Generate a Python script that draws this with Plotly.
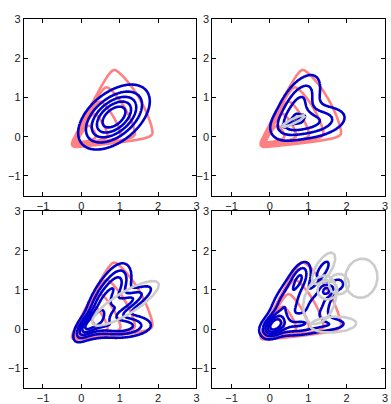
import numpy as np
import plotly.graph_objects as go

# ---------------- data ----------------
axis_range = [-1.5, 3.0]
tick_values = [-1, 0, 1, 2, 3]
tick_labels = ["\u22121", "0", "1", "2", "3"]

# contour levels, as fractions of each density's maximum (5 levels)
level_fractions = [1 / 6, 2 / 6, 3 / 6, 4 / 6, 5 / 6]

# target density (salmon): triangular, peaked at a corner
target_corner = [-0.2, -0.2]
target_edge_right = [2.1, 0.15]
target_edge_apex = [0.98, 2.0]
target_extent = 1.38
target_power = 1.6
target_norm_q = 1.2
target_edge_width = 0.02

# mixtures (blue); gray outlines for selected components
p1_weights = [1.0]
p1_means = [[0.85, 0.5]]
p1_angles = [38]
p1_sd_major = [0.57]
p1_sd_minor = [0.33]
p1_gray = [False]

p2_weights = [0.5, 0.49, 0.01]
p2_means = [[0.74, 0.84], [1.08, 0.36], [0.62, 0.4]]
p2_angles = [57, 10, 25]
p2_sd_major = [0.55, 0.58, 0.16]
p2_sd_minor = [0.27, 0.25, 0.03]
p2_gray = [False, False, True]

p3_weights = [0.33, 0.28, 0.18, 0.13, 0.08]
p3_means = [[0.54, 0.64], [0.99, 0.08], [1.15, 0.66], [1.0, 1.18], [0.12, 0.05]]
p3_angles = [65, 2, 31, 70, 50]
p3_sd_major = [0.5, 0.5, 0.5, 0.35, 0.28]
p3_sd_minor = [0.2, 0.18, 0.14, 0.2, 0.12]
p3_gray = [False, False, True, False, False]

p4_weights = [0.1, 0.14, 0.14, 0.1, 0.14, 0.08, 0.09, 0.1, 0.03, 0.03, 0.02, 0.02, 0.03]
p4_means = [[0.1, 0.1], [0.3, 0.5], [0.55, 0.08], [0.55, 0.95], [0.9, 0.5],
            [1.2, 0.15], [0.8, 1.35], [1.3, 0.75], [1.65, 0.12], [1.4, 1.55],
            [1.8, 1.15], [2.38, 1.3], [1.5, 1.0]]
p4_angles = [45, 62, 5, 62, 35, 5, 65, 70, 3, 57, 0, 80, 0]
p4_sd_major = [0.22, 0.42, 0.48, 0.38, 0.42, 0.45, 0.28, 0.32, 0.3, 0.23, 0.13, 0.25, 0.13]
p4_sd_minor = [0.14, 0.2, 0.16, 0.2, 0.27, 0.2, 0.15, 0.2, 0.1, 0.1, 0.13, 0.21, 0.12]
p4_gray = [False, False, False, False, False, False, False, True, True, True, True, True, True]

panels = [
    (p1_weights, p1_means, p1_angles, p1_sd_major, p1_sd_minor, p1_gray),
    (p2_weights, p2_means, p2_angles, p2_sd_major, p2_sd_minor, p2_gray),
    (p3_weights, p3_means, p3_angles, p3_sd_major, p3_sd_minor, p3_gray),
    (p4_weights, p4_means, p4_angles, p4_sd_major, p4_sd_minor, p4_gray),
]

# ---------------- styles ----------------
SALMON = "rgb(255,128,128)"
BLUE = "rgb(0,0,204)"
GRAY = "rgb(204,204,204)"
LW = 2.6
FONT = "Liberation Sans, Arial, sans-serif"

W, H = 391, 404
boxes_x = [(24, 198), (214, 388), (24, 198), (214, 388)]
boxes_y = [(13, 192.5), (13, 192.5), (208.5, 388), (208.5, 388)]

grid = np.linspace(axis_range[0], axis_range[1], 226)
GX, GY = np.meshgrid(grid, grid)


def sigmoid(x):
    return 0.5 * (1.0 + np.tanh(0.5 * x))


def target_density():
    A = np.array([[target_edge_right[0], target_edge_apex[0]],
                  [target_edge_right[1], target_edge_apex[1]]])
    Ai = np.linalg.inv(A)
    dx = GX - target_corner[0]
    dy = GY - target_corner[1]
    a = Ai[0, 0] * dx + Ai[0, 1] * dy
    b = Ai[1, 0] * dx + Ai[1, 1] * dy
    ap, bp = np.maximum(a, 0), np.maximum(b, 0)
    u = (ap ** target_norm_q + bp ** target_norm_q) ** (1 / target_norm_q)
    radial = np.maximum(1 - u / target_extent, 0) ** target_power
    return radial * sigmoid(a / target_edge_width) * sigmoid(b / target_edge_width)


def mixture_density(weights, means, angles, s1, s2):
    p = np.zeros_like(GX)
    for w, m, ang, a, b in zip(weights, means, angles, s1, s2):
        t = np.deg2rad(ang)
        c, s = np.cos(t), np.sin(t)
        dx = GX - m[0]
        dy = GY - m[1]
        u = c * dx + s * dy
        v = -s * dx + c * dy
        p += w * np.exp(-0.5 * ((u / a) ** 2 + (v / b) ** 2)) / (2 * np.pi * a * b)
    return p


def ellipse(m, ang, a, b, k=2.0, n=120):
    t = np.linspace(0, 2 * np.pi, n)
    th = np.deg2rad(ang)
    x = m[0] + k * (a * np.cos(t) * np.cos(th) - b * np.sin(t) * np.sin(th))
    y = m[1] + k * (a * np.cos(t) * np.sin(th) + b * np.sin(t) * np.cos(th))
    return x, y


def contour_trace(z, color, xa, ya):
    zn = (z / z.max()).astype(np.float32)
    lev = np.array(level_fractions)
    step = float(np.diff(lev).mean())
    return go.Contour(x=grid, y=grid, z=zn, xaxis=xa, yaxis=ya, autocontour=False,
                      contours=dict(coloring="lines", start=float(lev[0]),
                                    end=float(lev[-1]) + 1e-6, size=step),
                      line=dict(width=LW, smoothing=1), showscale=False,
                      colorscale=[[0, color], [1, color]], hoverinfo="skip")


fig = go.Figure()
tgt = target_density()

for i, (wts, means, angs, s1, s2, gray) in enumerate(panels):
    xa = "x" if i == 0 else f"x{i+1}"
    ya = "y" if i == 0 else f"y{i+1}"
    for m, ang, a, b, gflag in zip(means, angs, s1, s2, gray):
        if gflag:
            ex, ey = ellipse(m, ang, a, b)
            fig.add_trace(go.Scatter(x=ex, y=ey, mode="lines", xaxis=xa, yaxis=ya,
                                     line=dict(color=GRAY, width=LW), hoverinfo="skip"))
    fig.add_trace(contour_trace(tgt, SALMON, xa, ya))
    fig.add_trace(contour_trace(mixture_density(wts, means, angs, s1, s2), BLUE, xa, ya))

layout = dict(width=W, height=H, margin=dict(l=0, r=0, t=0, b=0),
              paper_bgcolor="white", plot_bgcolor="white", showlegend=False)
for i in range(4):
    xk = "xaxis" if i == 0 else f"xaxis{i+1}"
    yk = "yaxis" if i == 0 else f"yaxis{i+1}"
    x0, x1 = boxes_x[i]
    y0, y1 = boxes_y[i]
    common = dict(range=axis_range, tickmode="array", tickvals=tick_values, ticktext=tick_labels,
                  ticks="inside", ticklen=4, tickwidth=1, tickcolor="black",
                  showline=True, linecolor="black", linewidth=1, mirror="ticks",
                  showgrid=False, zeroline=False, fixedrange=True,
                  tickfont=dict(family=FONT, size=11, color="#1a1a1a"))
    layout[xk] = dict(common, domain=[x0 / W, x1 / W],
                      anchor="y" if i == 0 else f"y{i+1}")
    layout[yk] = dict(common, domain=[1 - y1 / H, 1 - y0 / H],
                      anchor="x" if i == 0 else f"x{i+1}")
fig.update_layout(**layout)
fig.write_html("out.html")
